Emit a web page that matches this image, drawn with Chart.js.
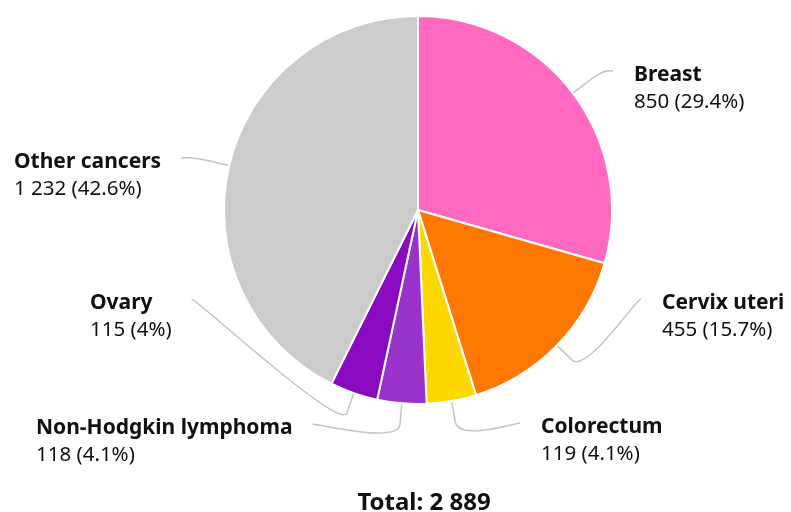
<!DOCTYPE html>
<html>
<head>
<meta charset="utf-8">
<script src="https://cdn.jsdelivr.net/npm/chart.js"></script>
<style>
  html, body { margin: 0; background: #fff; }
  canvas { display: block; }
</style>
</head>
<body>
<canvas id="chart" width="791" height="512"></canvas>
<script>
// Datos del gráfico
const categories = ['Breast', 'Cervix uteri', 'Colorectum', 'Non-Hodgkin lymphoma', 'Ovary', 'Other cancers'];
const cases = [850, 455, 119, 118, 115, 1232];
const sliceColors = ['#ff69c0', '#ff7800', '#ffd700', '#9933cc', '#8a0bbf', '#cccccc'];

// Posición de cada etiqueta (borde izquierdo del texto) relativa al centro del pastel
const labelOffsets = [[216, -135], [244, 93], [123, 217], [-382, 218], [-328, 93], [-404, -48]];

const FONT = '"Noto Sans", "Open Sans", sans-serif';
const TEXT_COLOR = '#111111';

// Formato con espacio como separador de miles
function fmt(n) {
  return String(n).replace(/\B(?=(\d{3})+(?!\d))/g, ' ');
}

function pct(v, total) {
  return (Math.round(v / total * 1000) / 10).toString();
}

const total = cases.reduce((a, b) => a + b, 0);

// Plugin para dibujar etiquetas con líneas guía y el total
const sliceLabels = {
  id: 'sliceLabels',
  afterDatasetsDraw(chart) {
    const ctx = chart.ctx;
    const arcs = chart.getDatasetMeta(0).data;
    let cx = 0, cy = 0;
    ctx.save();
    arcs.forEach((arc, i) => {
      const p = arc.getProps(['x', 'y', 'startAngle', 'endAngle', 'outerRadius'], true);
      cx = p.x; cy = p.y;
      const mid = (p.startAngle + p.endAngle) / 2;
      const dx = Math.cos(mid), dy = Math.sin(mid);
      const touch = { x: p.x + dx * (p.outerRadius + 1), y: p.y + dy * (p.outerRadius + 1) };
      const brk = { x: touch.x + dx * 20, y: touch.y + dy * 20 };

      const tx = p.x + labelOffsets[i][0];
      const ty = p.y + labelOffsets[i][1];
      const right = tx > p.x;
      const name = categories[i];
      const value = fmt(cases[i]) + ' (' + pct(cases[i], total) + '%)';

      ctx.font = 'bold 21px ' + FONT;
      const w1 = ctx.measureText(name).width;
      ctx.font = '20.5px ' + FONT;
      const w2 = ctx.measureText(value).width;

      const lx = right ? tx - 21 : tx + Math.max(w1, w2) + 20;
      const ly = ty - 4;

      // línea guía suave
      ctx.beginPath();
      ctx.moveTo(lx, ly);
      ctx.bezierCurveTo(lx + (right ? -5 : 5), ly, 2 * brk.x - touch.x, 2 * brk.y - touch.y, brk.x, brk.y);
      ctx.lineTo(touch.x, touch.y);
      ctx.strokeStyle = '#c4c4c4';
      ctx.lineWidth = 1.5;
      ctx.stroke();

      // texto
      ctx.fillStyle = TEXT_COLOR;
      ctx.textAlign = 'left';
      ctx.textBaseline = 'middle';
      ctx.font = 'bold 21px ' + FONT;
      ctx.fillText(name, tx, ty);
      ctx.font = '20.5px ' + FONT;
      ctx.fillText(value, tx, ty + 27);
    });

    ctx.font = 'bold 24px ' + FONT;
    ctx.fillStyle = TEXT_COLOR;
    ctx.textAlign = 'center';
    ctx.textBaseline = 'middle';
    ctx.fillText('Total: ' + fmt(total), cx + 6, cy + 293);
    ctx.restore();
  }
};

const chart = new Chart(document.getElementById('chart'), {
  type: 'pie',
  data: {
    labels: categories,
    datasets: [{
      data: cases,
      backgroundColor: sliceColors,
      borderColor: '#ffffff',
      borderWidth: 2,
      hoverOffset: 0
    }]
  },
  options: {
    responsive: false,
    animation: false,
    layout: { padding: { left: 223, right: 178, top: 15, bottom: 107 } },
    plugins: {
      legend: { display: false },
      tooltip: { enabled: false }
    }
  },
  plugins: [sliceLabels]
});
</script>
</body>
</html>
